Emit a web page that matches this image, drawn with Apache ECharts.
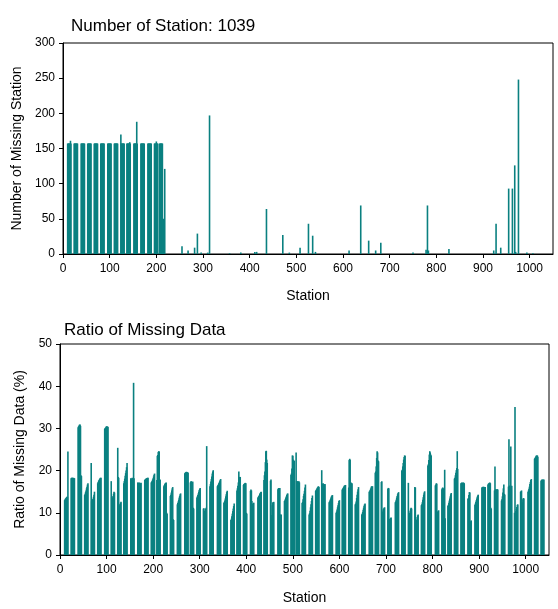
<!DOCTYPE html>
<html><head><meta charset="utf-8">
<script src="https://cdn.jsdelivr.net/npm/echarts@6/dist/echarts.min.js"></script>
<style>html,body{margin:0;padding:0;background:#fff}#c{width:558px;height:609px}</style>
</head><body><div id="c"></div><script>
// x tick labels
const xTicks = [0, 100, 200, 300, 400, 500, 600, 700, 800, 900, 1000];

// ---- Top panel: number of missing stations ----
// blocks of stations (first station of each block) and the counts in each block
const missingBlockStart = [10, 24, 39, 53, 67, 81, 96, 110, 124, 137, 152, 167, 182, 196, 207];
const missingBlocks = [
  [157,157,157,157,157,157,161,157],
  [157,157,157,157,157,157,157,157],
  [157,157,157,157,157,157,157,157],
  [157,157,157,157,157,157,157,157],
  [157,157,157,157,157,157,157,157],
  [157,157,157,157,157,157,157,157],
  [157,157,157,157,157,157,157,157],
  [157,157,157,157,157,157,157,157],
  [170,157,157,157,157,157,157,157],
  [157,157,157,157,157,157,159,157],
  [157,157,157,157,157,157,188,157],
  [157,157,157,157,157,157,157,157],
  [157,157,157,157,157,157,157,157],
  [157,157,157,157,160,157,157,157],
  [157,157,157,157,157,157,157]
];
// isolated stations with missing counts
const spikeStation = [216, 218, 255, 268, 282, 288, 296, 310, 314, 357, 381, 411, 415, 436, 471, 485, 508, 526, 535, 541,
  613, 638, 655, 670, 681, 750, 778, 781, 783, 827, 923, 928, 938, 955, 963, 968, 970, 976, 994, 1007];
const spikeCount = [50, 121, 11, 5, 9, 29, 2, 2, 197, 1, 2, 3, 3, 64, 27, 2, 9, 43, 26, 3,
  5, 69, 19, 5, 16, 2, 6, 69, 5, 7, 5, 43, 9, 93, 93, 126, 3, 248, 2, 1];

// ---- Bottom panel: ratio of missing data (%) ----
const toothStart = [10, 24, 39, 53, 67, 81, 96, 110, 124, 137, 152, 167, 182, 196, 208, 223, 237, 252, 268, 280,
  294, 308, 322, 338, 352, 367, 380, 394, 409, 425, 438, 452, 468, 482, 496, 507, 520, 535, 549, 562,
  578, 593, 606, 620, 634, 648, 664, 677, 690, 704, 720, 734, 748, 762, 776, 790, 806, 820, 833, 847,
  861, 876, 891, 906, 919, 933, 948, 963, 976, 989, 1005, 1019, 1033];
const ratioTeeth = [
  [13.0,13.2,13.4,13.5,13.7,13.8,13.8,24.5],
  [18.2,18.3,18.3,18.3,18.2,18.3,18.2,18.2],
  [30.3,30.5,30.7,30.9,30.9,30.6,18.9,18.7],
  [14.2,14.5,14.9,15.3,15.8,16.2,16.7,17.0],
  [21.8,12.7,12.9,13.2,13.3,13.8,14.3,15.0],
  [17.0,17.3,17.6,17.8,18.0,18.2,18.3,18.3],
  [29.9,30.1,30.2,30.4,30.5,30.5,30.3,30.4],
  [17.5,13.8,13.5,13.6,14.0,14.5,15.0,14.8],
  [25.4,18.5,18.3,11.5,11.8,12.1,12.4,12.6],
  [17.0,17.5,18.1,18.8,19.4,20.0,20.8,21.8],
  [18.2,18.0,18.1,18.3,18.2,18.0,40.8,18.2],
  [17.2,17.1,17.0,17.2,17.1,16.9,17.0,17.1],
  [17.8,17.9,18.0,18.1,18.2,18.2,18.3,18.3],
  [17.2,17.4,17.6,17.9,18.2,18.6,19.0,19.3],
  [17.8,23.5,23.7,24.4,24.6,24.5,18.0,17.8],
  [16.3,16.6,16.8,17.0,17.1,17.2,10.0,9.8],
  [14.0,14.3,14.8,15.3,15.8,16.1,8.5,8.3],
  [12.0,12.3,12.7,13.1,13.6,14.0,14.4,14.6],
  [19.4,19.5,19.6,19.7,19.7,19.6,19.6,19.5],
  [17.2,17.4,17.5,17.3,17.2,17.4,11.2,11.0],
  [13.6,13.9,14.2,14.6,15.0,15.4,15.7,15.9],
  [11.0,11.1,10.5,8.8,9.0,11.0,11.2,25.8],
  [16.3,16.8,17.4,18.0,18.6,19.3,19.8,20.1],
  [16.3,16.5,16.7,17.0,17.2,17.5,17.8,18.0],
  [12.4,12.6,12.9,13.4,13.9,14.4,14.9,15.2],
  [8.3,8.6,9.2,9.8,10.4,11.0,11.6,12.2],
  [15.3,15.8,16.4,17.2,19.8,18.5,18.4,18.5],
  [16.6,16.8,16.9,17.0,17.1,17.0,10.0,9.8],
  [15.2,15.5,15.3,12.8,7.0,12.1,12.3,12.4],
  [13.6,13.8,14.0,14.2,14.5,14.7,14.9,15.0],
  [17.8,18.9,19.8,22.0,24.6,24.7,22.6,21.8],
  [17.6,17.9,8.8,9.5,11.8,12.5,12.3,12.6],
  [15.6,15.8,15.9,15.8,15.9,9.6,9.5,9.6],
  [12.8,13.0,13.3,13.6,13.9,14.2,14.5,14.6],
  [19.0,19.3,20.5,23.6,23.5,22.6,22.4,22.3],
  [24.3,17.5,17.4,17.5,17.3,17.4,17.5,17.2],
  [12.3,12.6,13.2,14.0,14.5,15.2,16.0,16.7],
  [9.6,9.9,10.5,11.3,12.0,12.8,13.5,14.1],
  [15.2,15.4,15.6,15.8,16.0,16.2,16.3,16.1],
  [20.1,16.8,16.9,17.0,16.7,16.8,16.6,16.8],
  [12.5,12.7,13.0,13.3,13.6,13.9,14.1,14.2],
  [10.0,10.3,10.8,11.3,11.8,12.3,12.8,13.0],
  [15.5,15.7,15.9,16.1,16.3,16.5,16.4,16.6],
  [16.0,22.5,22.8,22.6,17.2,17.1,16.9,17.0],
  [12.0,12.2,12.7,13.5,14.3,15.0,15.6,16.1],
  [9.6,9.8,10.2,10.7,11.2,11.7,12.0,12.2],
  [15.0,15.1,15.4,15.7,16.0,16.3,16.2,16.3],
  [19.5,19.8,21.0,23.0,24.6,24.3,22.4,22.2],
  [17.3,17.5,10.0,10.3,10.8,11.0,11.2,11.3],
  [15.7,15.9,15.8,8.5,8.4,8.6,8.8,8.9],
  [12.5,12.7,13.1,13.6,14.0,14.4,14.7,14.9],
  [20.0,20.2,21.0,21.8,22.6,23.2,23.6,23.5],
  [17.1,9.0,9.4,10.0,10.5,11.0,11.2,11.0],
  [16.1,16.0,7.6,7.8,8.4,9.0,9.4,9.6],
  [11.8,12.0,12.5,13.1,13.7,14.3,14.8,15.1],
  [21.2,21.5,22.5,23.8,24.6,24.3,23.8,23.6],
  [16.5,16.7,17.0,16.9,10.2,10.0,10.4,10.6],
  [15.6,15.9,16.0,15.8,8.4,8.5,20.2,8.7],
  [11.7,11.9,12.4,12.9,13.4,13.9,14.4,14.7],
  [18.1,18.3,18.9,19.5,20.1,20.6,24.6,20.4],
  [17.0,17.1,17.2,17.1,17.0,17.2,17.1,17.0],
  [13.3,13.5,14.2,14.9,14.8,8.0,7.8,8.2],
  [11.9,12.2,12.6,13.0,13.4,13.8,14.1,14.3],
  [16.0,16.1,16.2,16.1,16.2,16.1,16.0,16.1],
  [16.7,16.9,17.0,17.1,17.2,17.0,11.2,11.0],
  [15.3,21.0,15.5,15.6,15.4,15.5,15.6,15.5],
  [12.9,13.2,13.9,14.8,15.8,16.7,14.5,14.3],
  [16.2,27.4,16.4,16.3,16.5,25.7,16.3,16.4],
  [10.0,35.1,10.0,10.4,10.9,11.4,11.9,12.0],
  [15.0,15.1,15.3,10.0,12.5,13.2,13.5,13.4],
  [15.0,15.3,15.7,16.2,16.8,17.3,17.8,18.0],
  [22.8,23.0,23.2,23.4,23.6,23.5,23.6,23.3],
  [17.6,17.8,17.9,17.8,17.9,17.8,17.9]
];

const missingData = [];
missingBlockStart.forEach((s, k) => missingBlocks[k].forEach((v, j) => missingData.push([s + j, v])));
spikeStation.forEach((s, i) => missingData.push([s, spikeCount[i]]));
const ratioData = [];
toothStart.forEach((s, k) => ratioTeeth[k].forEach((v, j) => ratioData.push([s + j, v])));

const FONT = "'Liberation Sans', Arial, sans-serif";
const BAR = '#0a8080';
const BLACK = '#000';

function xAxisCfg(gi, gap) {
  return {
    gridIndex: gi, type: 'value', min: 0, max: 1050,
    name: 'Station', nameLocation: 'middle', nameGap: gap,
    nameTextStyle: { fontFamily: FONT, fontSize: 14, color: BLACK },
    axisLine: { show: true, onZero: false, lineStyle: { color: BLACK, width: 1 } },
    axisTick: { show: true, customValues: xTicks, length: 4, lineStyle: { color: BLACK } },
    axisLabel: { customValues: xTicks, fontFamily: FONT, fontSize: 12, color: BLACK, margin: 9,
      formatter: v => String(v) },
    splitLine: { show: false }
  };
}
function yAxisCfg(gi, max, interval, name, gap) {
  return {
    gridIndex: gi, type: 'value', min: 0, max: max, interval: interval,
    name: name, nameLocation: 'middle', nameGap: gap,
    nameTextStyle: { fontFamily: FONT, fontSize: 14, color: BLACK },
    axisLine: { show: true, lineStyle: { color: BLACK, width: 1 } },
    axisTick: { show: true, length: 4, lineStyle: { color: BLACK } },
    axisLabel: { fontFamily: FONT, fontSize: 12, color: BLACK, margin: 8 },
    splitLine: { show: false }
  };
}

const chart = echarts.init(document.getElementById('c'), null, { renderer: 'canvas' });
chart.setOption({
  animation: false,
  backgroundColor: '#fff',
  title: [
    { text: 'Number of Station: 1039', left: 71, top: 18, padding: 0,
      textStyle: { fontFamily: FONT, fontSize: 17, fontWeight: 'normal', color: BLACK } },
    { text: 'Ratio of Missing Data', left: 64, top: 322, padding: 0,
      textStyle: { fontFamily: FONT, fontSize: 17, fontWeight: 'normal', color: BLACK } }
  ],
  grid: [
    { left: 63, right: 5, top: 43, height: 211, show: true, borderColor: BLACK, borderWidth: 1, backgroundColor: 'transparent' },
    { left: 60, right: 9, top: 344, height: 211, show: true, borderColor: BLACK, borderWidth: 1, backgroundColor: 'transparent' }
  ],
  xAxis: [xAxisCfg(0, 35), xAxisCfg(1, 36)],
  yAxis: [
    yAxisCfg(0, 300, 50, 'Number of Missing Station', 39),
    yAxisCfg(1, 50, 10, 'Ratio of Missing Data (%)', 33)
  ],
  series: [
    { type: 'bar', xAxisIndex: 0, yAxisIndex: 0, data: missingData, barWidth: 1.6,
      itemStyle: { color: BAR }, large: false },
    { type: 'bar', xAxisIndex: 1, yAxisIndex: 1, data: ratioData, barWidth: 1.6,
      itemStyle: { color: BAR }, large: false }
  ]
});
</script></body></html>
